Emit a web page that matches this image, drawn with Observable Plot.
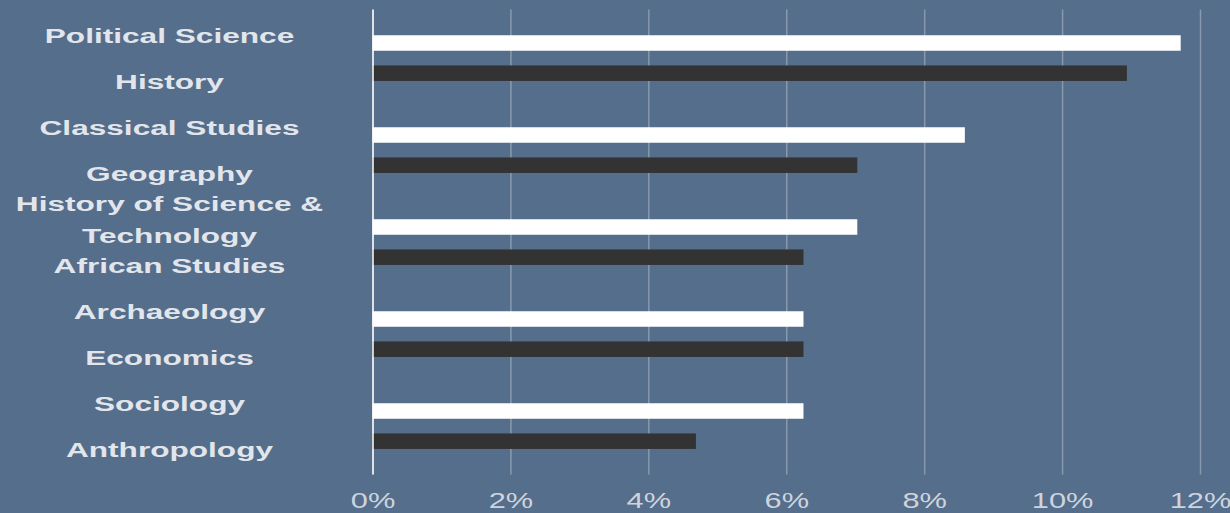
<!DOCTYPE html>
<html>
<head>
<meta charset="utf-8">
<script src="https://cdn.jsdelivr.net/npm/d3@7"></script>
<script src="https://cdn.jsdelivr.net/npm/@observablehq/plot@0.6"></script>
<style>
  html, body { margin: 0; padding: 0; background: #556e8b; width: 1230px; height: 513px; overflow: hidden; }
  #chart svg { display: block; }
</style>
</head>
<body>
<div id="chart"></div>
<script>
const categories = [
  "Political Science",
  "History",
  "Classical Studies",
  "Geography",
  "History of Science & Technology",
  "African Studies",
  "Archaeology",
  "Economics",
  "Sociology",
  "Anthropology"
];
const displayLabels = [
  "Political Science",
  "History",
  "Classical Studies",
  "Geography",
  "History of Science &\nTechnology",
  "African Studies",
  "Archaeology",
  "Economics",
  "Sociology",
  "Anthropology"
];
const values = [11.72, 10.94, 8.59, 7.03, 7.03, 6.25, 6.25, 6.25, 6.25, 4.69];
const xTicks = [0, 2, 4, 6, 8, 10, 12];

const data = categories.map((c, i) => ({category: c, value: values[i], index: i}));
const labelOf = new Map(categories.map((c, i) => [c, displayLabels[i]]));

const step = (474.4 - 9.5) / 10;
const barH = 16;
const half = (step - barH) / 2;

const chart = Plot.plot({
  width: 1230,
  height: 513,
  marginLeft: 372.5,
  marginRight: 30,
  marginTop: 9.5,
  marginBottom: 513 - 474.4,
  style: {background: "#556e8b", fontFamily: "'Liberation Sans', Arial, sans-serif"},
  x: {domain: [0, 12], ticks: xTicks, axis: null},
  y: {domain: categories, type: "band", padding: 0, axis: null},
  marks: [
    Plot.gridX(xTicks, {stroke: "#ffffff", strokeOpacity: 0.3, strokeWidth: 1.5}),
    Plot.barX(data.filter(d => d.index % 2 === 0), {
      x: "value", y: "category", fill: "#ffffff",
      insetTop: half + 8, insetBottom: half - 8
    }),
    Plot.barX(data.filter(d => d.index % 2 === 1), {
      x: "value", y: "category", fill: "#333333",
      insetTop: half - 7.8, insetBottom: half + 7.8
    }),
    Plot.ruleX([0], {stroke: "#ffffff", strokeOpacity: 0.75, strokeWidth: 2}),
    Plot.axisY({
      tickSize: 0, tickPadding: 0, textAnchor: "middle", dx: -203.5, dy: -3,
      tickFormat: d => labelOf.get(d), lineHeight: 1.52,
      fontSize: 21, fontWeight: "bold", fill: "#e2e6ec", label: null
    }),
    Plot.axisX({
      ticks: xTicks, tickSize: 0, tickPadding: 17,
      tickFormat: d => d + "%", fontSize: 22, fill: "#cdd4de", label: null
    })
  ]
});
document.getElementById("chart").appendChild(chart);

// The reference chart's text is horizontally stretched; emulate by widening glyphs
// about each label's own anchor point.
function stretch(selector, factor) {
  chart.querySelectorAll(selector).forEach(t => {
    const tr = t.getAttribute("transform") || "";
    t.setAttribute("transform", tr + " scale(" + factor + ",1)");
  });
}
stretch('g[aria-label="y-axis tick label"] text', 1.505);
stretch('g[aria-label="x-axis tick label"] text', 1.4);
</script>
</body>
</html>
